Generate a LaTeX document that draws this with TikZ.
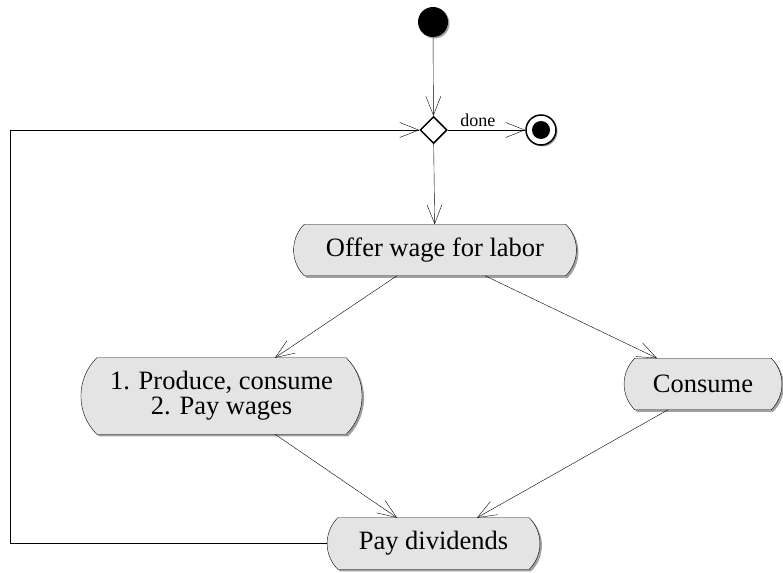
\documentclass[tikz,border=0pt]{standalone}
\usepackage{fontspec}
\setmainfont{Liberation Serif}
\usetikzlibrary{arrows.meta,shapes.geometric}
\pgfdeclarelayer{bg}
\pgfsetlayers{bg,main}
\definecolor{actfill}{HTML}{E4E4E4}
\definecolor{shadecol}{HTML}{A0A0A0}
\begin{document}
\begin{tikzpicture}[x=1pt,y=-1pt, line width=1.5pt,
  >={Straight Barb[length=19pt,width=15pt]},
  act/.style={inner sep=0pt, minimum height=50pt, font=\fontsize{26.5}{25}\selectfont, align=center},
  lbl/.style={font=\fontsize{18}{18}\selectfont, inner sep=1pt}]
\useasboundingbox (0,0) rectangle (783,572);
% nodes
\node[act, minimum width=260pt] (offer) at (435,250) {Offer wage for labor};
\node[act, minimum width=248pt, minimum height=75pt] (produce) at (221.5,396) {1. Produce, consume\\2. Pay wages};
\node[act, minimum width=135pt] (consume) at (703,384) {Consume};
\node[act, minimum width=190pt] (pay) at (433.5,543.5) {Pay dividends};
\node[circle, fill=black, minimum size=30pt, inner sep=0pt] (start) at (433,22) {};
\node[diamond, draw, fill=white, minimum width=27pt, minimum height=27pt, inner sep=0pt, aspect=1] (dec) at (433.5,130) {};
\node[circle, draw, fill=white, minimum size=30pt, inner sep=0pt] (fin) at (541,130) {};
\node[circle, fill=black, minimum size=18pt, inner sep=0pt] (finin) at (fin) {};
% shapes
\begin{pgfonlayer}{bg}
\foreach \n in {offer,produce,consume,pay}{
  \fill[shadecol, transform canvas={shift={(2pt,-2pt)}}] (\n.north west) to[bend right=45] (\n.south west) -- (\n.south east) to[bend right=45] (\n.north east) -- cycle;
  \draw[fill=actfill] (\n.north west) to[bend right=45] (\n.south west) -- (\n.south east) to[bend right=45] (\n.north east) -- cycle;
}
\fill[shadecol, transform canvas={shift={(1.5pt,-1.5pt)}}] (start) circle (15pt);
\fill[shadecol, transform canvas={shift={(1.5pt,-1.5pt)}}] (fin) circle (15pt);
\end{pgfonlayer}
% connectors
\coordinate (lb) at (10,543.5);
\coordinate (lt) at (10,130);
\draw[->] (start) -- (dec);
\draw[->] (dec) -- node[lbl, pos=0.39, above=2pt] {done} (fin);
\draw[->] (dec) -- (offer);
\draw[->] ([xshift=-38pt]offer.south) -- ([xshift=53.5pt]produce.north);
\draw[->] ([xshift=50pt]offer.south) -- ([xshift=-46pt]consume.north);
\draw[->] ([xshift=53.5pt]produce.south) -- ([xshift=-36.5pt]pay.north);
\draw[->] ([xshift=-35pt]consume.south) -- ([xshift=43.5pt]pay.north);
\draw[->] ([xshift=-10.4pt]pay.west) -- (lb) -- (lt) -- (dec.west);
\end{tikzpicture}
\end{document}
